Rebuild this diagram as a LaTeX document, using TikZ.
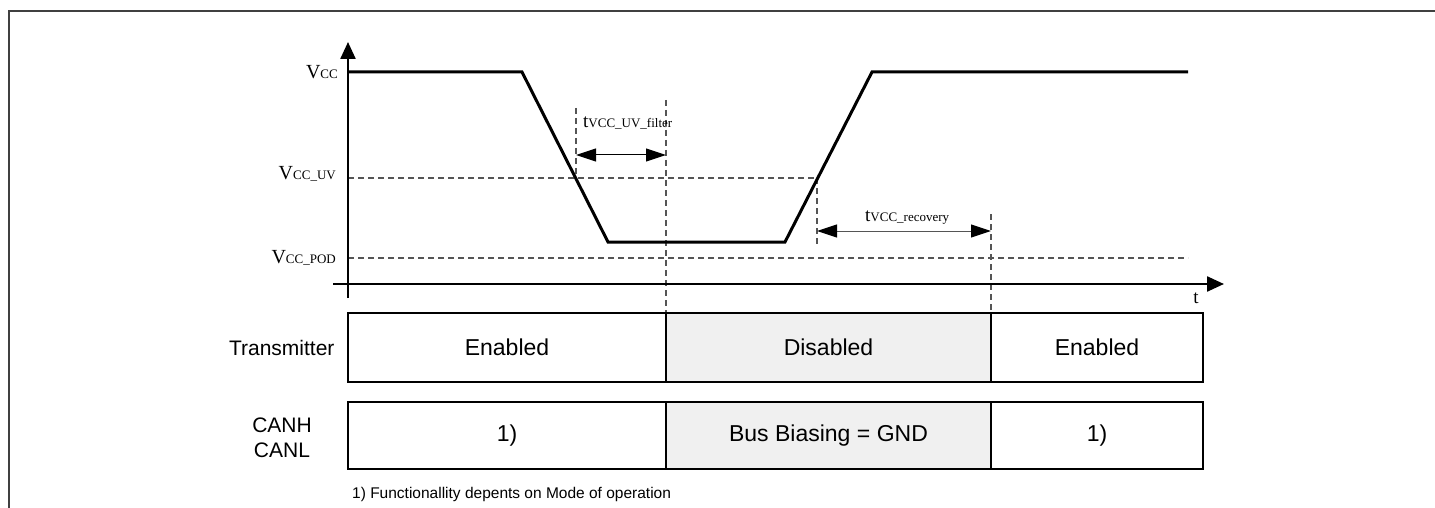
\documentclass[tikz,border=0pt]{standalone}
\usepackage{fontspec}
\setmainfont{Liberation Sans}
\newfontfamily\tnr{Liberation Serif}
\usetikzlibrary{arrows.meta}
\definecolor{dashgray}{HTML}{555555}
\definecolor{cellgray}{HTML}{F0F0F0}
\tikzset{
  wave/.style={line width=3pt, line join=miter},
  axisline/.style={line width=2.4pt, -{Triangle[length=17pt,width=15pt]}},
  guide/.style={dashgray, line width=1.2pt, dash pattern=on 6pt off 4pt},
  dimarrow/.style={line width=1pt, {Triangle[length=20pt,width=13pt,color=black]}-{Triangle[length=20pt,width=13pt,color=black]}},
  cell/.style={draw, line width=2.5pt, inner sep=0pt, font=\fontsize{23}{27}\selectfont},
  rowlabel/.style={font=\fontsize{21}{25}\selectfont, align=center},
  framel/.style={draw=black!75, line width=1.5pt},
  vlabel/.style={font=\tnr, inner sep=0pt}
}
\newcommand{\vname}[1]{{\fontsize{20}{20}\selectfont V}{\fontsize{13}{13}\selectfont #1}}
\newcommand{\tname}[1]{{\fontsize{19}{19}\selectfont t}{\fontsize{13}{13}\selectfont #1}}
\begin{document}
\begin{tikzpicture}[x=1pt,y=-1pt]
\useasboundingbox (0,0) rectangle (1435,508);
% frame
\coordinate (fbl) at (9,508);
\coordinate (ftl) at (9,11);
\coordinate (ftr) at (1435,11);
\draw[framel] (fbl) -- (ftl) -- (ftr);

% coordinates
\coordinate (ybot) at (348,298);
\coordinate (ytop) at (348,42);
\coordinate (xl) at (333,284);
\coordinate (xr) at (1224,284);
\coordinate (w0) at (348,72);
\coordinate (w1) at (522,72);
\coordinate (w2) at (608,242);
\coordinate (w3) at (785,242);
\coordinate (w4) at (872,72);
\coordinate (w5) at (1188,72);
\coordinate (uvl) at (348,178);
\coordinate (uvr) at (817,178);
\coordinate (podl) at (348,258);
\coordinate (podr) at (1188,258);
\coordinate (d1t) at (576,108);
\coordinate (d1b) at (576,178);
\coordinate (d2t) at (666,100);
\coordinate (d2b) at (666,313);
\coordinate (d3t) at (817,178);
\coordinate (d3b) at (817,246);
\coordinate (d4t) at (991,214);
\coordinate (d4b) at (991,313);
\coordinate (fa) at (576,155);
\coordinate (fb) at (666,155);
\coordinate (ra) at (817,231);
\coordinate (rb) at (991,231);

% guides
\draw[guide] (uvl) -- (uvr);
\draw[guide] (podl) -- (podr);
\draw[guide] (d1t) -- (d1b);
\draw[guide] (d2t) -- (d2b);
\draw[guide] (d3t) -- (d3b);
\draw[guide] (d4t) -- (d4b);

% axes
\draw[axisline] (ybot) -- (ytop);
\draw[axisline] (xl) -- (xr);
\node[vlabel, anchor=base] (tlab) at (1196,303) {\fontsize{19}{19}\selectfont t};

% waveform
\draw[wave] (w0) -- (w1) -- (w2) -- (w3) -- (w4) -- (w5);

% level labels
\node[vlabel, anchor=base east] (lvcc) at (338,79) {\vname{CC}};
\node[vlabel, anchor=base east] (lvuv) at (336,179) {\vname{CC\_UV}};
\node[vlabel, anchor=base east] (lvpod) at (336,263) {\vname{CC\_POD}};

% dimension arrows
\draw[dimarrow] (fa) -- (fb);
\node[vlabel, anchor=base west] (lfilt) at (583,128) {\tname{VCC\_UV\_filter}};
\draw[dimarrow, draw=dashgray] (ra) -- (rb);
\node[vlabel, anchor=base west] (lrec) at (865,221) {\tname{VCC\_recovery}};

% transmitter row
\node[cell, minimum width=318pt, minimum height=69pt] (te1) at (507,347.5) {Enabled};
\node[cell, fill=cellgray, minimum width=325pt, minimum height=69pt] (td) at (828.5,347.5) {Disabled};
\node[cell, minimum width=212pt, minimum height=69pt] (te2) at (1097,347.5) {Enabled};
\node[rowlabel, anchor=east] (ltx) at (338,347.5) {Transmitter};

% CAN row
\node[cell, minimum width=318pt, minimum height=67pt] (c1) at (507,435.5) {1)};
\node[cell, fill=cellgray, minimum width=325pt, minimum height=67pt] (cb) at (828.5,435.5) {Bus Biasing = GND};
\node[cell, minimum width=212pt, minimum height=67pt] (c2) at (1097,435.5) {1)};
\node[rowlabel] (lcan) at (282,438) {CANH\\CANL};

% footnote
\node[anchor=base west, inner sep=0pt, font=\fontsize{15.5}{18}\selectfont] (fn) at (352,498) {1) Functionallity depents on Mode of operation};
\end{tikzpicture}
\end{document}
